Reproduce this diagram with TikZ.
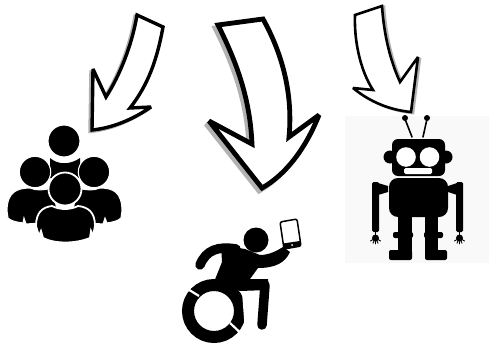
\documentclass[tikz,border=0pt]{standalone}
\begin{document}
\begin{tikzpicture}[x=1pt,y=-1pt,
  ink/.style={fill=black,draw=none},
  ring/.style={fill=black,draw=white,line width=1.1pt},
  arrowbox/.style={draw=black,fill=white,line join=miter,miter limit=3.5},
  arrowshade/.style={draw=black!30,fill=black!30,line join=miter,miter limit=3.5},
  wire/.style={draw=black,line cap=round,line join=round}]
\useasboundingbox (0,0) rectangle (489,345);
\fill[white] (0,0) rectangle (489,345);
% robot background
\fill[black!2.5] (345,116) rectangle (489,263);
% arrow paths
\def\arrowA{(137,15) -- (163,27) .. controls (157,60) and (148,85) .. (130,108) -- (151,107) .. controls (132,120) and (112,128) .. (92,130) -- (93,69) -- (106,97) .. controls (120,75) and (132,45) .. cycle}
\def\arrowB{(218,25) -- (263,19) .. controls (283,55) and (293,95) .. (289,137) -- (319,115) .. controls (305,150) and (285,175) .. (262,188) -- (209,121) -- (252,144) .. controls (250,100) and (238,65) .. cycle}
\def\arrowC{(355,15) -- (382,6) .. controls (384,35) and (390,60) .. (400,82) -- (418,57) -- (411,112) .. controls (390,110) and (370,102) .. (353,88) -- (373,90) .. controls (360,70) and (354,40) .. cycle}
\draw[arrowshade,line width=3.4pt,shift={(-2,1.5)}] \arrowA;
\draw[arrowshade,line width=4.8pt,shift={(-3,3)}] \arrowB;
\draw[arrowshade,line width=2.6pt,shift={(2,1)}] \arrowC;
\draw[arrowbox,line width=3.4pt] \arrowA;
\draw[arrowbox,line width=4.8pt] \arrowB;
\draw[arrowbox,line width=2.6pt] \arrowC;
% people
\fill[ink] (50,158) .. controls (58,165) and (70,165) .. (80,158) -- (80,178) -- (50,178) -- cycle;
\draw[ring] (64,141) circle (16);
\draw[ring] (7,211) .. controls (7,192) and (17,188) .. (30,188) .. controls (37,191) and (44,190) .. (52,188) -- (60,222) -- (26,224) -- (24,218) -- (23,223) .. controls (16,222) and (11,221) .. (8,218) -- cycle;
\draw[ring] (122,211) .. controls (122,192) and (113,188) .. (100,188) .. controls (93,191) and (86,190) .. (78,188) -- (70,222) -- (103,224) -- (105,218) -- (107,223) .. controls (113,222) and (118,221) .. (121,218) -- cycle;
\draw[ring] (35,172) circle (15.7);
\draw[ring] (94,172) circle (15.7);
\draw[ring,line width=1.8pt] (65,189) circle (16.5);
\draw[ring,line width=1.8pt] (36,226) .. controls (36,212) and (43,207) .. (52,206) .. controls (60,210) and (70,210) .. (78,206) .. controls (88,207) and (95,212) .. (95,226) -- (93,236) -- (91,231) -- (90,238) .. controls (75,244) and (55,244) .. (43,238) -- (41,231) -- (39,236) -- cycle;
% robot
\draw[wire,line width=1.6pt] (412,137) -- (405,119);
\draw[wire,line width=1.6pt] (423,137) -- (427,119);
\fill[ink] (405,118) circle (3);
\fill[ink] (427,118) circle (3);
\fill[ink,rounded corners=6pt] (392,139) rectangle (445,176);
\fill[ink] (390,157) circle (6.5);
\fill[ink] (446,157) circle (6.5);
\fill[white] (406,157) circle (9.8);
\fill[white] (429.5,157) circle (9.8);
\fill[white,rounded corners=1.5pt] (404,168) rectangle (432,174);
\fill[ink,rounded corners=9pt] (389,178) rectangle (448,217);
\fill[ink] (398,215) rectangle (412,252);
\fill[ink] (425,215) rectangle (438,252);
\fill[ink,rounded corners=2pt] (393,232) rectangle (413,238);
\fill[ink,rounded corners=2pt] (424,232) rectangle (443,238);
\fill[ink,rounded corners=2pt] (389,250) rectangle (412,260);
\fill[ink,rounded corners=2pt] (425,250) rectangle (447,260);
\fill[ink,rounded corners=1.5pt] (372,182) rectangle (379,232);
\fill[ink,rounded corners=1.5pt] (456,182) rectangle (463,232);
\fill[ink] (378,183) -- (388,186) -- (388,192) -- (378,195) -- cycle;
\fill[ink] (457,183) -- (448,186) -- (448,192) -- (457,195) -- cycle;
\foreach \hx in {375.5,459.5}{
  \fill[ink] (\hx,238) circle (3.5);
  \foreach \d in {-5,-2.5,0,2.5,5}
    \draw[wire,line width=.9pt] (\hx,238) -- (\hx+\d,244-0.12*\d*\d);
  \draw[wire,line width=1pt] (\hx,232) -- (\hx,238);
}
% wheelchair: wheel
\draw[draw=black,line width=12pt,line cap=butt] (214,311) circle (26);
\draw[white,line width=2.2pt] (178,283) -- (199,296);
\draw[white,line width=2.2pt] (230,323) -- (246,338);
% wheelchair: person
\fill[white] (242,292) -- (262,292) -- (258,332) -- (245,332) -- cycle;
\fill[ink] (256,240) circle (12.5);
\draw[wire,line width=9.5pt] (200,265) .. controls (206,250) and (218,246) .. (236,249);
\fill[ink] (221,245) -- (245,249) -- (260,255) .. controls (270,255) and (278,250) .. (283,247) -- (290,252) .. controls (285,263) and (275,268) .. (258,268) -- (250,279) -- (268,279) -- (268,290) -- (240,291) -- (214,282) -- (222,262) -- cycle;
\draw[wire,line width=9.5pt] (244,285) -- (265,285) -- (262,325);
% phone
\draw[black,line width=1.5pt,fill=white,rounded corners=2pt] (280,222) -- (297,219) -- (301,246) -- (284,249) -- cycle;
\fill[ink] (283,243.5) -- (300,241) -- (301,246) -- (284,249) -- cycle;
\fill[white] (292,245) circle (1);
\end{tikzpicture}
\end{document}
